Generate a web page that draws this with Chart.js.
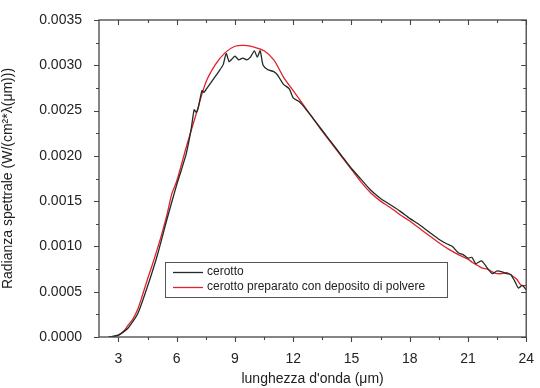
<!DOCTYPE html>
<html>
<head>
<meta charset="utf-8">
<script src="https://cdn.jsdelivr.net/npm/chart.js@4.4.1/dist/chart.umd.min.js"></script>
<style>
html,body{margin:0;padding:0;background:#fff;}
#wrap{width:540px;height:388px;position:relative;}
</style>
</head>
<body>
<div id="wrap"><canvas id="c" width="540" height="388"></canvas></div>
<script>
const seriesNames = ["cerotto", "cerotto preparato con deposito di polvere"];

const xBlack = [2.5,3,3.5,4,4.5,5,5.5,6,6.25,6.5,6.75,6.9,7.0,7.1,7.3,7.4,7.6,7.8,8.0,8.2,8.4,8.55,8.7,8.85,9.0,9.2,9.4,9.6,9.8,10.0,10.15,10.3,10.45,10.7,11.0,11.2,11.5,11.8,12.0,12.3,12.6,13,13.5,14,14.5,15,15.5,16,16.5,17,17.5,18,18.5,19,19.5,19.9,20.2,20.5,20.75,21,21.2,21.4,21.7,22,22.25,22.5,22.75,23,23.2,23.4,23.6,23.8,24];
const yBlack = [0,0.00002,0.0001,0.00026,0.00056,0.0009,0.0013,0.00168,0.00185,0.00203,0.0023,0.00251,0.00248,0.00252,0.00272,0.0027,0.00276,0.00282,0.00288,0.00294,0.00301,0.00313,0.00304,0.00307,0.0031,0.00306,0.00308,0.00306,0.00309,0.00316,0.00309,0.00316,0.003,0.00295,0.00293,0.00289,0.00279,0.00274,0.00264,0.0026,0.00253,0.00242,0.00228,0.00214,0.002,0.00186,0.00174,0.00162,0.00153,0.00146,0.00139,0.00131,0.00124,0.00116,0.00108,0.00103,0.001,0.00093,0.00091,0.00087,0.00088,0.00081,0.00084,0.00076,0.0007,0.00073,0.00072,0.0007,0.00069,0.00062,0.00054,0.00057,0.00052];

const xRed = [2.5,2.75,3,3.25,3.5,3.75,4,4.25,4.5,4.75,5,5.25,5.5,5.75,6,6.5,7,7.5,8,8.5,9,9.5,10,10.5,11,11.5,12,12.5,13,13.5,14,14.5,15,15.5,16,16.5,17,17.5,18,18.5,19,19.5,20,20.5,21,21.25,21.5,21.75,22,22.25,22.5,22.75,23,23.25,23.5,23.75,24];
const yRed = [0,0.000005,0.00002,0.00006,0.00013,0.0002,0.00031,0.00047,0.00064,0.0008,0.00097,0.00115,0.00135,0.00158,0.00172,0.0021,0.00246,0.00281,0.00301,0.00314,0.00321,0.00322,0.0032,0.00316,0.00306,0.00287,0.00272,0.00257,0.00242,0.00227,0.00213,0.00199,0.00185,0.00171,0.00159,0.0015,0.00143,0.00135,0.00128,0.0012,0.00112,0.00104,0.00097,0.00091,0.00086,0.00082,0.00079,0.00076,0.00075,0.00072,0.0007,0.0007,0.00071,0.00068,0.00064,0.00057,0.00057];

const xTicks = [3,6,9,12,15,18,21,24];
const yTicks = [0,0.0005,0.001,0.0015,0.002,0.0025,0.003,0.0035];

const FONT = "'Liberation Sans', Arial, sans-serif";
const AXIS = '#444';

function toPts(xs, ys){ return xs.map((x,i)=>({x:x,y:ys[i]})); }

const frame = {
  id:'frame',
  afterDraw(chart){
    const ctx = chart.ctx, a = chart.chartArea;
    const xs = chart.scales.x, ys = chart.scales.y;
    ctx.save();
    ctx.strokeStyle = AXIS; ctx.lineWidth = 1.3;
    ctx.strokeRect(a.left, a.top, a.right-a.left, a.bottom-a.top);
    ctx.lineWidth = 1.1;
    ctx.beginPath();
    for (let v = 1.5; v <= 24.001; v += 1.5){
      if (v < xs.min - 1e-9) continue;
      const p = Math.round(xs.getPixelForValue(v)) + 0.5;
      const major = Math.abs(v/3 - Math.round(v/3)) < 1e-6;
      const L = major ? 5 : 3;
      ctx.moveTo(p, a.bottom); ctx.lineTo(p, a.bottom + L);
      ctx.moveTo(p, a.top); ctx.lineTo(p, a.top + L);
    }
    for (let k = 0; k <= 14; k++){
      const v = k*0.00025;
      const p = Math.round(ys.getPixelForValue(v)) + 0.5;
      const L = (k % 2 === 0) ? 5 : 3;
      ctx.moveTo(a.left, p); ctx.lineTo(a.left - L, p);
      ctx.moveTo(a.right, p); ctx.lineTo(a.right - L, p);
    }
    ctx.stroke();

    // legend
    const lx = 165, ly = 262, lw = 282, lh = 35;
    ctx.fillStyle = '#fff';
    ctx.fillRect(lx, ly, lw, lh);
    ctx.strokeStyle = '#555'; ctx.lineWidth = 1;
    ctx.strokeRect(lx+0.5, ly+0.5, lw, lh);
    ctx.font = '12px ' + FONT;
    ctx.textBaseline = 'middle';
    chart.data.datasets.forEach((ds, i) => {
      const yy = ly + 10 + i*15;
      ctx.strokeStyle = ds.borderColor; ctx.lineWidth = 1.3;
      ctx.beginPath(); ctx.moveTo(lx+8, yy+0.5); ctx.lineTo(lx+38, yy+0.5); ctx.stroke();
      ctx.fillStyle = '#222';
      ctx.fillText(ds.label, lx+42, yy);
    });
    ctx.restore();
  }
};

new Chart(document.getElementById('c'), {
  type: 'line',
  data: {
    datasets: [
      { label: seriesNames[0], data: toPts(xBlack, yBlack), borderColor: '#1f2b25', borderWidth: 1.3, pointRadius: 0, tension: 0.2, fill: false },
      { label: seriesNames[1], data: toPts(xRed, yRed), borderColor: '#e3212b', borderWidth: 1.3, pointRadius: 0, tension: 0.3, fill: false }
    ]
  },
  options: {
    responsive: false,
    animation: false,
    layout: { padding: { top: 20, right: 8, left: 0, bottom: 0 } },
    plugins: { legend: { display: false }, tooltip: { enabled: false } },
    scales: {
      x: {
        type: 'linear', min: 2, max: 24,
        afterBuildTicks: s => { s.ticks = xTicks.map(v => ({ value: v })); },
        afterFit: s => { s.height = 51; },
        grid: { display: false },
        border: { display: false },
        ticks: { color: '#222', font: { family: FONT, size: 14 }, padding: 6, maxRotation: 0, autoSkip: false },
        title: { display: true, text: "lunghezza d'onda (μm)", color: '#222', font: { family: FONT, size: 14 }, padding: { top: 2, bottom: 0 } }
      },
      y: {
        type: 'linear', min: 0, max: 0.0035,
        afterBuildTicks: s => { s.ticks = yTicks.map(v => ({ value: v })); },
        afterFit: s => { s.width = 99; },
        grid: { display: false },
        border: { display: false },
        ticks: { color: '#222', font: { family: FONT, size: 14 }, padding: 9, callback: v => Number(v).toFixed(4) },
        title: { display: true, text: "Radianza spettrale (W/(cm²*λ(μm)))", color: '#222', font: { family: FONT, size: 14 }, padding: { top: 0, bottom: 4 } }
      }
    }
  },
  plugins: [frame]
});
</script>
</body>
</html>
